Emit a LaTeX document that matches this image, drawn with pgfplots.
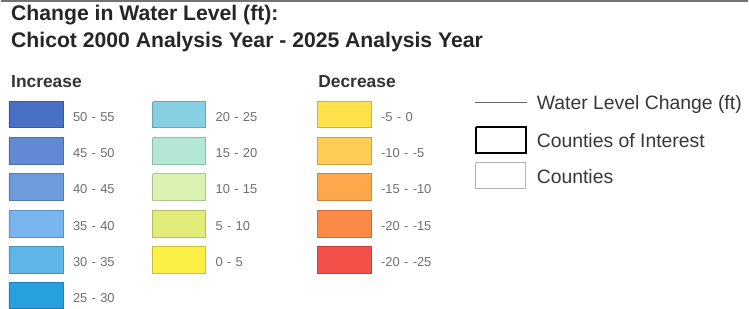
\documentclass[border=0pt]{standalone}
\usepackage{pgfplots}
\pgfplotsset{compat=1.18}
\usepackage{fontspec}
\setmainfont{Liberation Sans}
\definecolor{c50}{RGB}{72,112,196}
\definecolor{c45}{RGB}{98,138,212}
\definecolor{c40}{RGB}{110,155,222}
\definecolor{c35}{RGB}{120,180,238}
\definecolor{c30}{RGB}{95,180,232}
\definecolor{c25}{RGB}{40,160,222}
\definecolor{c20}{RGB}{135,208,228}
\definecolor{c15}{RGB}{180,232,212}
\definecolor{c10}{RGB}{218,242,178}
\definecolor{c5}{RGB}{226,236,120}
\definecolor{c0}{RGB}{252,240,70}
\definecolor{d5}{RGB}{255,226,75}
\definecolor{d10}{RGB}{255,205,85}
\definecolor{d15}{RGB}{255,168,75}
\definecolor{d20}{RGB}{250,138,70}
\definecolor{d25}{RGB}{242,80,72}
\definecolor{lab}{RGB}{110,110,110}
\definecolor{txt}{RGB}{55,55,55}
\newcommand{\sw}[5]{\addplot[mark=none,fill=#5,draw=#5!80!black,line width=0.8pt] coordinates {(#1,#3) (#2,#3) (#2,#4) (#1,#4) (#1,#3)};}
\begin{document}
\begin{tikzpicture}
\begin{axis}[width=749bp,height=310bp,scale only axis,xmin=0,xmax=749,ymin=0,ymax=310,y dir=reverse,hide axis,clip=false]
% top scan edge
\addplot[mark=none,draw=black!55,line width=2pt] coordinates {(0,1) (749,1)};
% increase column 1
\sw{8}{63}{102}{128}{c50}
\sw{8}{63}{138}{165}{c45}
\sw{8}{63}{174}{201}{c40}
\sw{8}{63}{211}{238}{c35}
\sw{8}{63}{247}{274}{c30}
\sw{8}{63}{283}{309}{c25}
% increase column 2
\sw{152}{205}{102}{128}{c20}
\sw{152}{205}{138}{165}{c15}
\sw{152}{205}{174}{201}{c10}
\sw{152}{205}{211}{238}{c5}
\sw{152}{205}{247}{274}{c0}
% decrease
\sw{317}{371}{102}{128}{d5}
\sw{317}{371}{138}{165}{d10}
\sw{317}{371}{174}{201}{d15}
\sw{317}{371}{211}{238}{d20}
\sw{317}{371}{247}{274}{d25}
% right legend
\addplot[mark=none,draw=black!60,line width=1.5pt] coordinates {(475,103) (527,103)};
\addplot[mark=none,draw=black,line width=2pt] coordinates {(476,127) (526,127) (526,153) (476,153) (476,127)};
\addplot[mark=none,draw=black!30,line width=1pt] coordinates {(476,163) (526,163) (526,189) (476,189) (476,163)};
% titles
\node[anchor=base west,inner sep=0,font=\fontsize{21.3}{24}\selectfont\bfseries,text=black!85] at (axis cs:10,21) {Change in Water Level (ft):};
\node[anchor=base west,inner sep=0,font=\fontsize{21.3}{24}\selectfont\bfseries,text=black!85] at (axis cs:10,48) {Chicot 2000 Analysis Year - 2025 Analysis Year};
\node[anchor=base west,inner sep=0,font=\fontsize{17.5}{20}\selectfont\bfseries,text=black!80] at (axis cs:10,88) {Increase};
\node[anchor=base west,inner sep=0,font=\fontsize{17.5}{20}\selectfont\bfseries,text=black!80] at (axis cs:318,88) {Decrease};
% range labels
\tikzset{rl/.style={anchor=base west,inner sep=0,font=\fontsize{13}{15}\selectfont,text=lab}}
\node[rl] at (axis cs:72,121.5) {50\,\,-\,\,55};
\node[rl] at (axis cs:72,158) {45\,\,-\,\,50};
\node[rl] at (axis cs:72,194.5) {40\,\,-\,\,45};
\node[rl] at (axis cs:72,231) {35\,\,-\,\,40};
\node[rl] at (axis cs:72,267.5) {30\,\,-\,\,35};
\node[rl] at (axis cs:72,303) {25\,\,-\,\,30};
\node[rl] at (axis cs:215,121.5) {20\,\,-\,\,25};
\node[rl] at (axis cs:215,158) {15\,\,-\,\,20};
\node[rl] at (axis cs:215,194.5) {10\,\,-\,\,15};
\node[rl] at (axis cs:215,231) {5\,\,-\,\,10};
\node[rl] at (axis cs:215,267.5) {0\,\,-\,\,5};
\node[rl] at (axis cs:381,121.5) {-5\,\,-\,\,0};
\node[rl] at (axis cs:381,158) {-10\,\,-\,\,-5};
\node[rl] at (axis cs:381,194.5) {-15\,\,-\,\,-10};
\node[rl] at (axis cs:381,231) {-20\,\,-\,\,-15};
\node[rl] at (axis cs:381,267.5) {-20\,\,-\,\,-25};
% right legend text
\tikzset{ll/.style={anchor=base west,inner sep=0,font=\fontsize{19.5}{22}\selectfont,text=txt}}
\node[ll] at (axis cs:537,110) {Water Level Change (ft)};
\node[ll] at (axis cs:537,148) {Counties of Interest};
\node[ll] at (axis cs:537,184) {Counties};
\end{axis}
\end{tikzpicture}
\end{document}
